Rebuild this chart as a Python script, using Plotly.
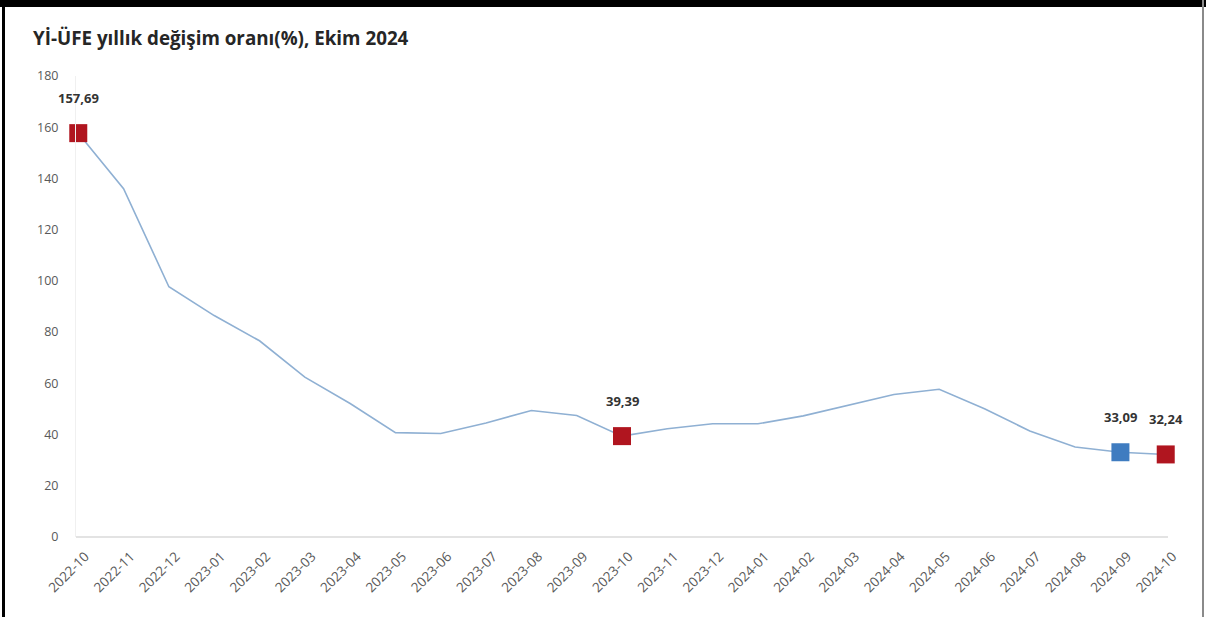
import plotly.graph_objects as go

# Monthly annual change rate of the domestic producer price index (%)
months = [
    "2022-10", "2022-11", "2022-12", "2023-01", "2023-02", "2023-03", "2023-04",
    "2023-05", "2023-06", "2023-07", "2023-08", "2023-09", "2023-10", "2023-11",
    "2023-12", "2024-01", "2024-02", "2024-03", "2024-04", "2024-05", "2024-06",
    "2024-07", "2024-08", "2024-09", "2024-10",
]
rates = [
    157.69, 136.02, 97.72, 86.46, 76.61, 62.43, 52.11, 40.76, 40.42, 44.50,
    49.41, 47.44, 39.39, 42.25, 44.22, 44.20, 47.29, 51.47, 55.66, 57.68,
    50.09, 41.37, 35.17, 33.09, 32.24,
]
# Highlighted months: October of each year in red, previous month in blue
red_months = ["2022-10", "2023-10", "2024-10"]
blue_months = ["2024-09"]
y_ticks = [0, 20, 40, 60, 80, 100, 120, 140, 160, 180]

W, H = 1206, 617
ML, MR, MT, MB = 76, 38, 76, 80

def tr(v):
    return f"{v:.2f}".replace(".", ",")

fig = go.Figure()
fig.add_trace(go.Scatter(
    x=months, y=rates, mode="lines",
    line=dict(color="#8fb0d3", width=1.6),
    hoverinfo="x+y", showlegend=False,
))
for sel, color in ((red_months, "#b0151f"), (blue_months, "#3f7cc0")):
    xs = [m for m in months if m in sel]
    ys = [rates[months.index(m)] for m in xs]
    fig.add_trace(go.Scatter(
        x=xs, y=ys, mode="markers",
        marker=dict(symbol="square", size=18, color=color,
                    line=dict(color=color, width=0)),
        cliponaxis=False, showlegend=False,
    ))
    for m, v in zip(xs, ys):
        fig.add_annotation(
            x=m, y=v, text=f"<b>{tr(v)}</b>", showarrow=False,
            yshift=35, font=dict(size=13, color="#333333"),
        )

# Frame around the chart card
px = lambda x: (x - ML) / (W - ML - MR)
py = lambda y: 1 - (y - MT) / (H - MT - MB)
shapes = [
    dict(type="rect", xref="paper", yref="paper", x0=px(0), x1=px(W), y0=py(0), y1=py(7),
         fillcolor="#000000", line=dict(width=0), layer="above"),
    dict(type="rect", xref="paper", yref="paper", x0=px(2), x1=px(5), y0=py(0), y1=py(H),
         fillcolor="#000000", line=dict(width=0), layer="above"),
    dict(type="rect", xref="paper", yref="paper", x0=px(1202), x1=px(1204), y0=py(0), y1=py(H),
         fillcolor="#8a8a8a", line=dict(width=0), layer="above"),
]

fig.update_layout(
    width=W, height=H,
    margin=dict(l=ML, r=MR, t=MT, b=MB),
    paper_bgcolor="white", plot_bgcolor="white",
    font=dict(family="Open Sans, Noto Sans, sans-serif", color="#595959"),
    title=dict(
        text="<b>Yİ-ÜFE yıllık değişim oranı(%), Ekim 2024</b>",
        x=33 / W, xanchor="left", y=1 - 38 / H, yanchor="middle",
        font=dict(size=18.8, color="#262626"),
    ),
    shapes=shapes,
    showlegend=False,
)
fig.update_xaxes(
    type="category", categoryorder="array", categoryarray=months,
    range=[-0.05, 24.05], tickangle=-45, tickfont=dict(size=13.5, color="#595959"),
    showgrid=False, showline=False, zeroline=False, ticks="",
    ticklabelstandoff=8, ticklabelshift=7,
)
fig.update_yaxes(
    range=[0, 180], tickvals=y_ticks, ticktext=[str(v) for v in y_ticks],
    tickfont=dict(size=12.5, color="#595959"), showgrid=False,
    zeroline=True, zerolinecolor="#e3e3e3", zerolinewidth=1.5,
    showline=True, linecolor="#f0f0f0", linewidth=1, ticks="",
    ticklabelstandoff=14,
)

fig.write_html("out.html")
